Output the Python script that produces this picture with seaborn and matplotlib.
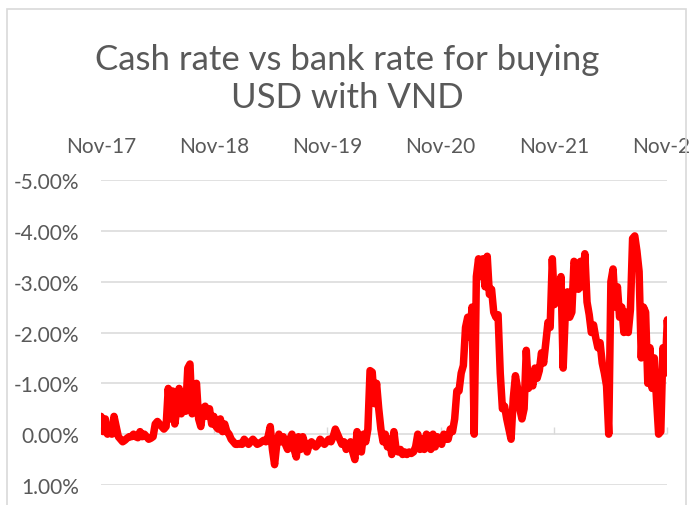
import pandas as pd
import seaborn as sns
import matplotlib.pyplot as plt
import matplotlib.dates as mdates
from matplotlib.patches import Rectangle
from matplotlib.ticker import FuncFormatter

# weekly readings, Nov 2017 -> Nov 2022, spread (%) of cash vs bank rate
start_date = "2017-11-01"
spread = [
    -0.35, -0.05, -0.3, 0.0, -0.05, 0.0, -0.35, -0.15, 0.05, 0.1,
    0.15, 0.12, 0.08, 0.05, 0.05, 0.0, 0.05, 0.07, -0.05, 0.05,
    0.0, 0.05, 0.1, 0.08, 0.05, -0.2, -0.25, -0.2, -0.15, -0.1,
    -0.15, -0.9, -0.3, -0.85, -0.2, -0.5, -0.9, -0.4, -0.75, -0.45,
    -1.3, -1.38, -0.4, -0.8, -1.0, -0.3, -0.15, -0.5, -0.55, -0.35,
    -0.5, -0.2, -0.35, -0.15, -0.1, -0.3, -0.05, -0.2, -0.05, 0.0,
    0.1, 0.15, 0.2, 0.2, 0.18, 0.2, 0.1, 0.15, 0.2, 0.15,
    0.1, 0.15, 0.2, 0.18, 0.15, 0.12, 0.15, 0.05, -0.15, 0.3,
    0.6, 0.2, 0.0, 0.15, 0.05, 0.2, 0.3, 0.1, 0.0, 0.3,
    0.45, 0.05, 0.3, 0.05, 0.2, 0.35, 0.2, 0.15, 0.2, 0.25,
    0.2, 0.1, 0.15, 0.2, 0.15, 0.1, 0.15, 0.05, -0.1, 0.0,
    0.1, 0.2, 0.15, 0.3, 0.25, 0.15, 0.35, 0.5, -0.05, 0.1,
    0.35, 0.0, 0.15, -0.1, -1.25, -1.22, -0.6, -1.0, -0.5, -0.1,
    0.15, 0.0, 0.25, 0.1, 0.4, -0.05, 0.3, 0.35, 0.3, 0.4,
    0.35, 0.4, 0.35, 0.38, 0.35, 0.25, 0.0, 0.3, 0.1, 0.3,
    0.0, 0.2, 0.3, 0.0, 0.25, 0.05, 0.15, 0.2, 0.0, 0.1,
    0.1, -0.1, -0.05, -0.3, -0.85, -0.85, -1.2, -1.35, -2.1, -2.3,
    -1.9, -2.5, 0.0, -3.1, -3.45, -3.1, -3.45, -2.9, -3.5, -2.75,
    -2.85, -2.4, -2.3, -2.35, -1.2, -0.5, -0.55, -0.3, -0.1, 0.1,
    -0.7, -1.15, -0.9, -0.5, -0.3, -0.5, -1.65, -0.9, -1.1, -0.95,
    -1.3, -1.1, -1.25, -1.6, -1.4, -1.8, -2.2, -2.1, -3.45, -2.55,
    -2.95, -2.6, -3.1, -1.3, -2.4, -2.8, -2.3, -2.4, -3.4, -3.3,
    -2.85, -3.4, -2.9, -3.55, -2.6, -2.35, -2.0, -2.15, -1.9, -1.7,
    -1.8, -1.4, -1.2, -0.95, 0.0, -3.0, -3.25, -2.5, -2.9, -2.3,
    -2.5, -2.0, -2.4, -2.0, -2.45, -3.85, -3.9, -3.6, -3.2, -1.5,
    -2.5, -2.4, -1.0, -1.7, -0.9, -1.5, -0.7, 0.0, -0.05, -1.7,
    -1.2, -2.25, -1.65,
]
year_ticks = ["2017-11-01", "2018-11-01", "2019-11-01", "2020-11-01", "2021-11-01", "2022-11-01"]
y_ticks = [-5, -4, -3, -2, -1, 0, 1]
title = "Cash rate vs bank rate for buying\nUSD with VND"

df = pd.DataFrame({
    "date": pd.date_range(start_date, periods=len(spread), freq="7D"),
    "spread": spread,
})

sns.set_style("white")
plt.rcParams["font.family"] = ["Lato", "DejaVu Sans"]
grey = "#595959"

fig = plt.figure(figsize=(6.89, 5.06), dpi=100)
ax = fig.add_axes([101 / 689, 1 - 486 / 506, 566 / 689, 305 / 506])

sns.lineplot(data=df, x="date", y="spread", ax=ax, color="#ff0000", linewidth=5.4,
             solid_capstyle="round", solid_joinstyle="round")

ax.set_ylim(1, -5)
ax.set_yticks(y_ticks)
ax.yaxis.set_major_formatter(FuncFormatter(lambda v, p: f"{v:.2f}%"))
ax.set_xlim(pd.Timestamp(year_ticks[0]), pd.Timestamp(year_ticks[-1]))
ax.set_xticks(pd.to_datetime(year_ticks))
ax.xaxis.set_major_formatter(mdates.DateFormatter("%b-%y"))
ax.xaxis.tick_top()
ax.set_xlabel("")
ax.set_ylabel("")
ax.grid(axis="y", color="#d9d9d9", linewidth=1.1)
ax.set_axisbelow(True)
for s in ax.spines.values():
    s.set_visible(False)
ax.tick_params(axis="y", length=0, pad=16, labelsize=15, labelcolor=grey)
ax.tick_params(axis="x", length=0, pad=17, labelsize=15, labelcolor=grey)

# small tick marks on the zero line
sec = ax.secondary_xaxis(1 / 6)
sec.set_xticks(pd.to_datetime(year_ticks))
sec.tick_params(axis="x", direction="in", length=5, color="#d9d9d9", width=1, labelbottom=False, labeltop=False)
sec.spines["bottom"].set_visible(False)
sec.spines["top"].set_visible(False)

fig.text(0.504, 1 - 79 / 506, title, ha="center", va="center", ma="center",
         fontsize=25, color=grey, linespacing=1.25)

fig.patches.append(Rectangle((7 / 689, -0.1), 679 / 689, 1.1 - 10 / 506, transform=fig.transFigure,
                             fill=False, edgecolor="#d9d9d9", linewidth=1.2))

fig.savefig("out.png", dpi=100)
